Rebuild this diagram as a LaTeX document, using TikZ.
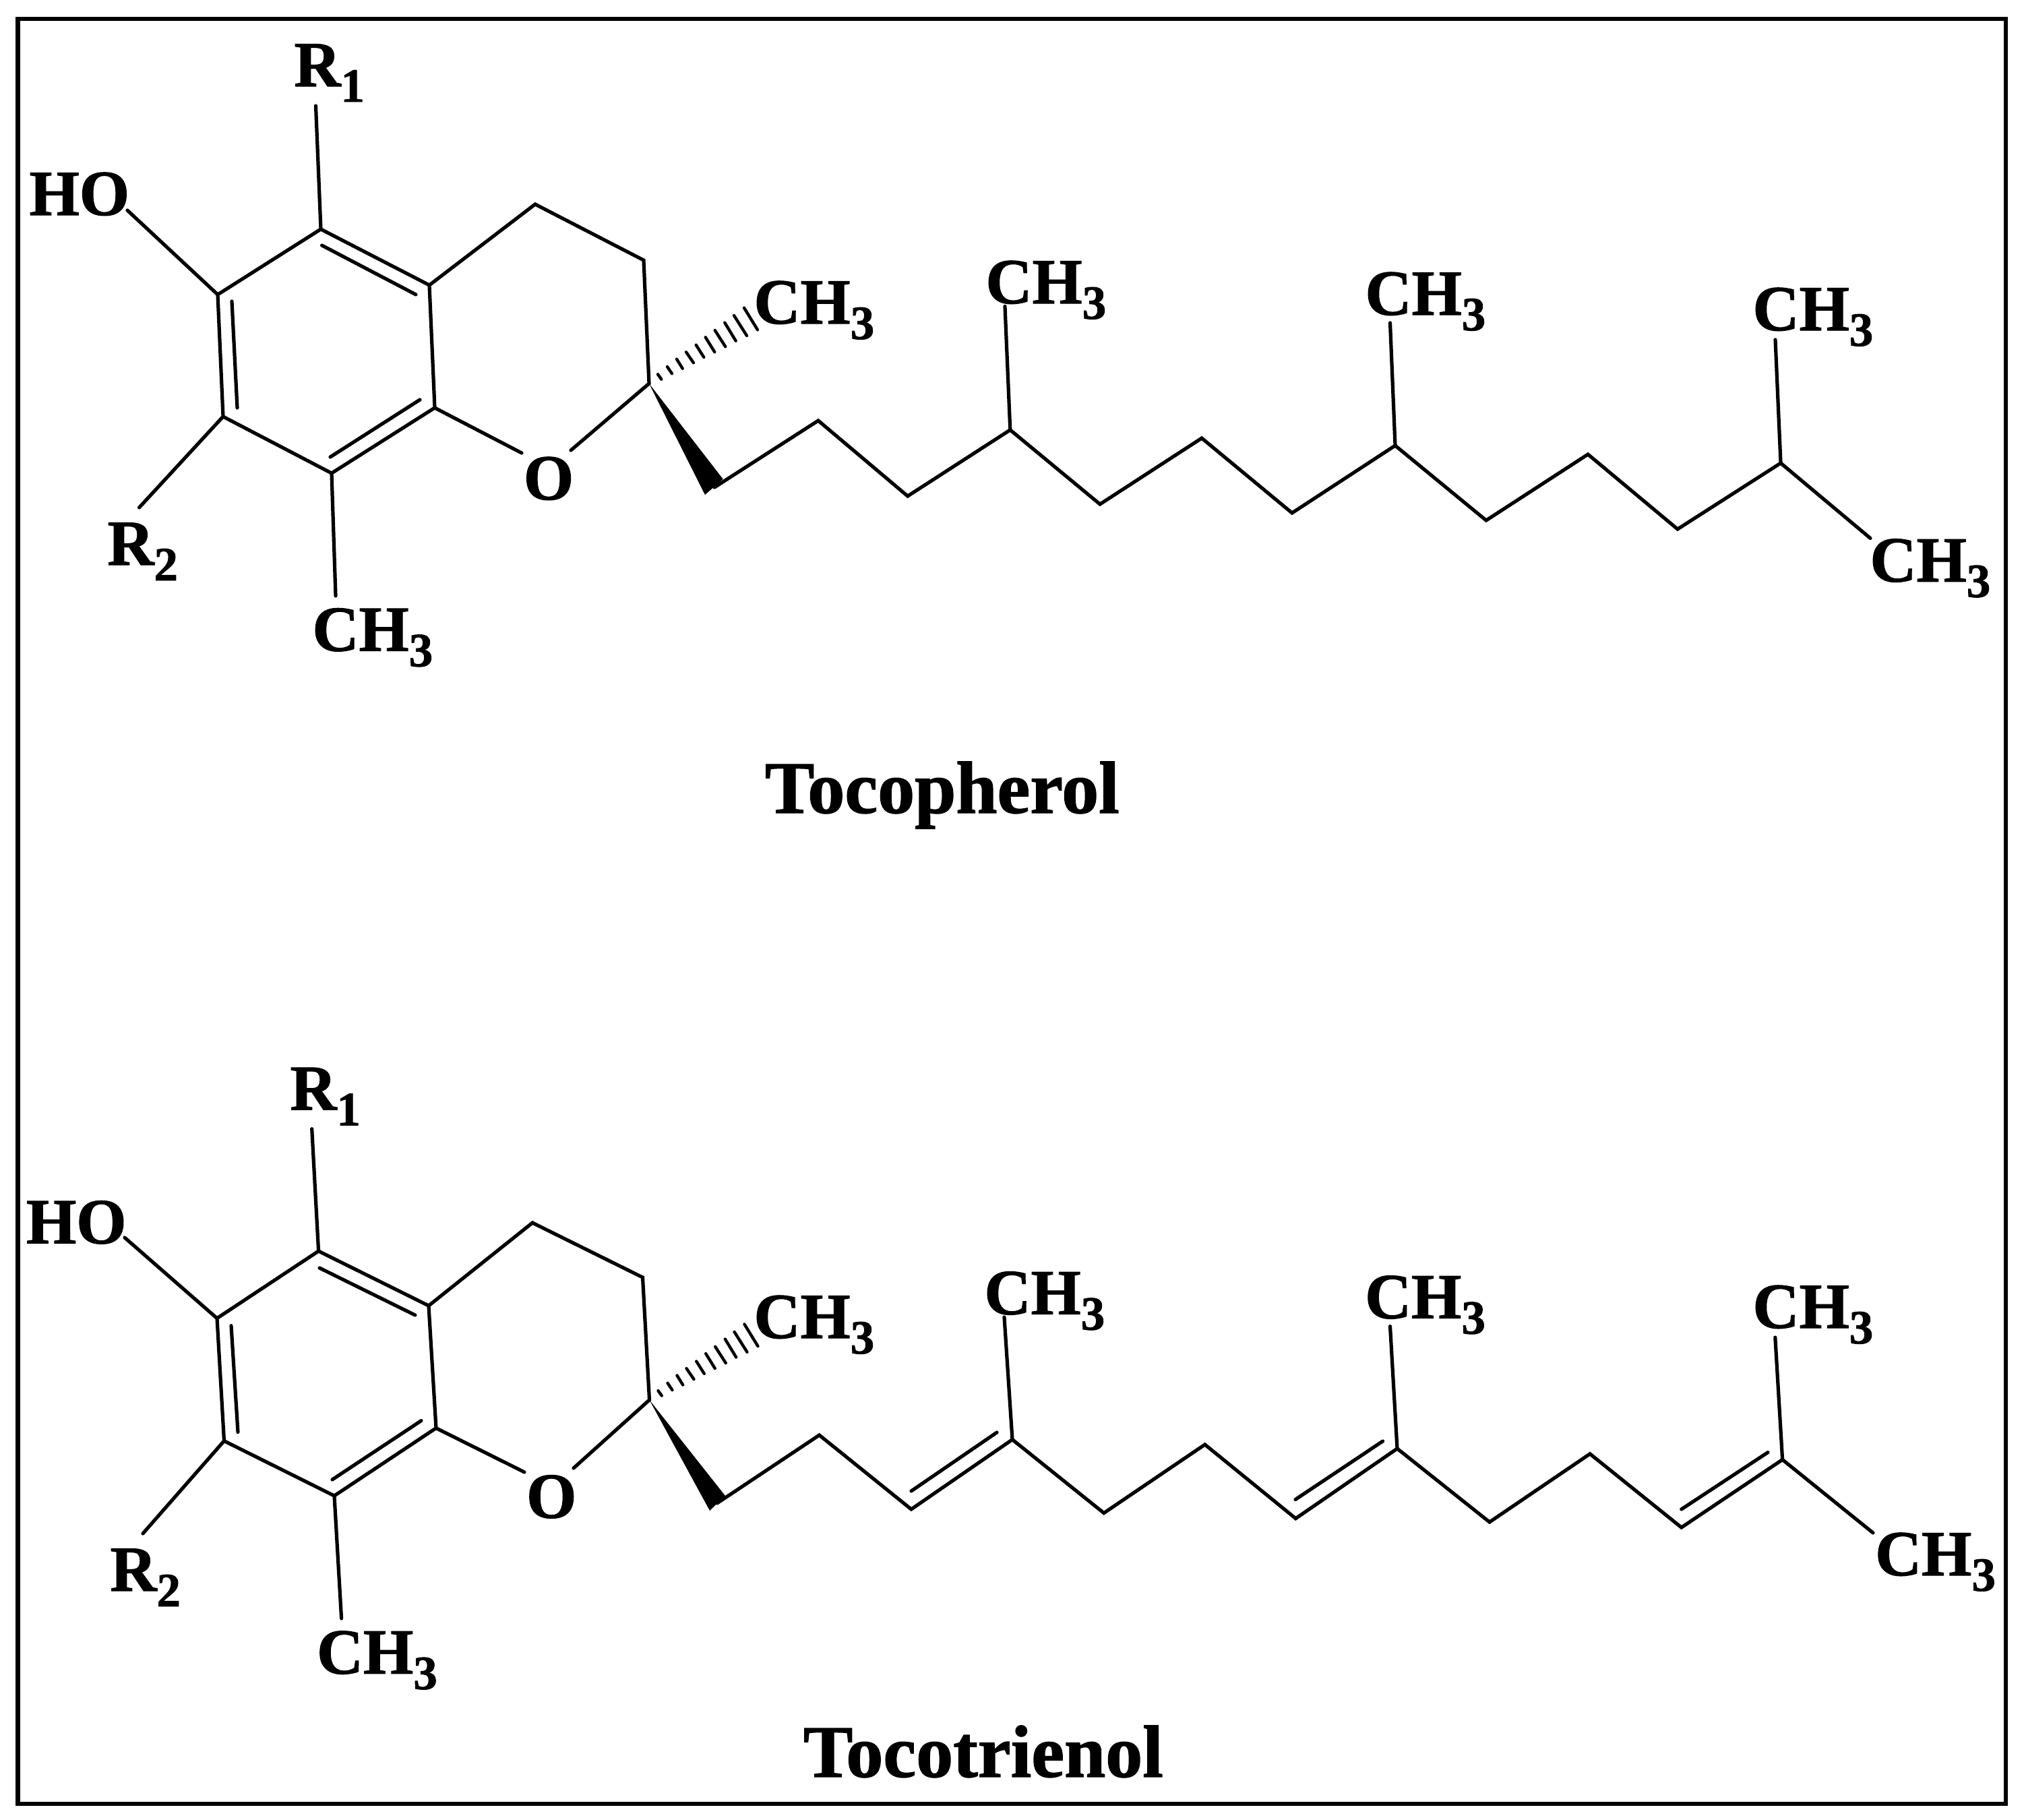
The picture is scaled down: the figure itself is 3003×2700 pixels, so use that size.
\documentclass[tikz,border=0pt]{standalone}
\usepackage{fontspec}
\setmainfont[BoldFeatures={FakeBold=1.2}]{Liberation Serif}
\newcommand{\subd}[1]{{\fontsize{71}{71}\selectfont\lower23pt\hbox{#1}}}
\newcommand{\chthree}{CH\subd{3}}
\newcommand{\hashbond}[2]{%
  \begin{scope}[shift={(#1,#2)}]
    \foreach \xa/\ya/\xb/\yb in {976/555.3/981.3/562.7,990/544/997/554.3,1004/532.7/1012.7/546.7,1018/522.3/1029/538.3,1032.7/511.7/1044.3/530,1046.7/500.3/1060.3/522.3,1060.7/490/1076.3/514.3,1075.3/478.7/1091.7/505.7,1089/468/1108/498,1104/456.7/1124/489.3}
      \draw[hashline] (\xa,\ya) -- (\xb,\yb);
  \end{scope}}
\tikzset{
  x=1pt,y=-1pt,
  bond/.style={line width=5.2pt,line cap=round,line join=miter,miter limit=10,black},
  hashline/.style={line width=4.4pt,line cap=round,black},
  wedgebond/.style={fill=black,draw=none},
  lab/.style={anchor=base west,inner sep=0pt,outer sep=0pt,xshift=-2.5pt,yshift=-1pt,font=\bfseries\fontsize{95.5}{100}\selectfont,text=black},
  title/.style={anchor=base west,inner sep=0pt,outer sep=0pt,font=\bfseries\fontsize{110}{114}\selectfont,text=black},
  frameline/.style={line width=6.5pt,black,line join=miter}
}
\begin{document}
\begin{tikzpicture}
\useasboundingbox (0,0) rectangle (3003,2700);
\fill[white] (0,0) rectangle (3003,2700);
\coordinate (f1) at (26.5,28);
\coordinate (f2) at (2976,2676);
\draw[frameline] (f1) rectangle (f2);

%% ---- Tocopherol ----
\coordinate (a5) at (476,340);
\coordinate (a4a) at (637,423);
\coordinate (a8a) at (645,605);
\coordinate (a8) at (492,702);
\coordinate (a7) at (331,618);
\coordinate (a6) at (323,437);
\coordinate (a4) at (794,303);
\coordinate (a3) at (955,386);
\coordinate (a2) at (963,569);
\coordinate (aOl) at (774,672);
\coordinate (aOr) at (847,668);
\coordinate (aR1) at (468.5,157);
\coordinate (aHO) at (189,312);
\coordinate (aR2) at (206.5,753);
\coordinate (aMe) at (498,884);
\coordinate (ai1a) at (477.6,364);
\coordinate (ai1b) at (617,437);
\coordinate (ai2a) at (344,447);
\coordinate (ai2b) at (352,605);
\coordinate (ai3a) at (490,678);
\coordinate (ai3b) at (623,593);
\coordinate (aw1) at (1046,734);
\coordinate (aw2) at (1072.7,710.7);
\coordinate (av2) at (1060,723);
\coordinate (av22) at (1214,624);
\coordinate (av3) at (1346.7,736);
\coordinate (av4) at (1498.8,637.8);
\coordinate (av5) at (1632,748);
\coordinate (av6) at (1783,650);
\coordinate (av7) at (1917,761);
\coordinate (av8) at (2070,661);
\coordinate (av9) at (2205,772);
\coordinate (av10) at (2356,674);
\coordinate (av11) at (2489,785);
\coordinate (av12) at (2642,687);
\coordinate (aend) at (2775,798.5);
\coordinate (ab4) at (1491,454.5);
\coordinate (ab8) at (2062.5,479);
\coordinate (ab12) at (2634,504);

\draw[bond] (a6) -- (a5) -- (a4a) -- (a8a) -- (a8) -- (a7) -- cycle;
\draw[bond] (a4a) -- (a4) -- (a3) -- (a2) -- (aOr);
\draw[bond] (a8a) -- (aOl);
\draw[bond] (a5) -- (aR1);
\draw[bond] (a6) -- (aHO);
\draw[bond] (a7) -- (aR2);
\draw[bond] (a8) -- (aMe);
\draw[bond] (ai1a) -- (ai1b);
\draw[bond] (ai2a) -- (ai2b);
\draw[bond] (ai3a) -- (ai3b);
\fill[wedgebond] (a2) -- (aw1) -- (aw2) -- cycle;
\hashbond{0}{0}
\draw[bond] (av2) -- (av22) -- (av3) -- (av4) -- (av5) -- (av6) -- (av7) -- (av8) -- (av9) -- (av10) -- (av11) -- (av12) -- (aend);
\draw[bond] (av4) -- (ab4);
\draw[bond] (av8) -- (ab8);
\draw[bond] (av12) -- (ab12);

\node[lab] (aR1t) at (439,127) {R\subd{1}};
\node[lab] (aHOt) at (46,318) {HO};
\node[lab] (aR2t) at (162,837) {R\subd{2}};
\node[lab] (aMet) at (466,964.5) {\chthree};
\node[lab] (aOt) at (779.4,740) {O};
\node[lab] (aHt) at (1121,479) {\chthree};
\node[lab] (aM4) at (1465,449) {\chthree};
\node[lab] (aM8) at (2028,466) {\chthree};
\node[lab] (aM12) at (2603,489) {\chthree};
\node[lab] (aMe2) at (2777,861.7) {\chthree};
\node[title] (t1) at (1135,1206) {Tocopherol};

%% ---- Tocotrienol ----
\coordinate (b5) at (472.6,1856);
\coordinate (b4a) at (636,1937);
\coordinate (b8a) at (647,2118.6);
\coordinate (b8) at (496,2219);
\coordinate (b7) at (332.5,2137.6);
\coordinate (b6) at (322,1955.7);
\coordinate (b4) at (790,1814);
\coordinate (b3) at (953.5,1895);
\coordinate (b2) at (963.5,2076.8);
\coordinate (bOl) at (778,2183.9);
\coordinate (bOr) at (851,2178);
\coordinate (bR1) at (462.7,1674.7);
\coordinate (bHO) at (185,1836);
\coordinate (bR2) at (212,2275);
\coordinate (bMe) at (506.6,2401);
\coordinate (bi1a) at (474,1881);
\coordinate (bi1b) at (616,1951);
\coordinate (bi2a) at (343,1966.7);
\coordinate (bi2b) at (353,2124.5);
\coordinate (bi3a) at (493,2195);
\coordinate (bi3b) at (625,2107.6);
\coordinate (bw1) at (1053,2241);
\coordinate (bw2) at (1076,2219);
\coordinate (bv2) at (1064,2230);
\coordinate (bv22) at (1215.6,2129);
\coordinate (bv3) at (1352,2239);
\coordinate (bv4) at (1502,2135.6);
\coordinate (bv5) at (1637.8,2244.6);
\coordinate (bv6) at (1787.7,2143);
\coordinate (bv7) at (1922.4,2252.7);
\coordinate (bv8) at (2073,2149);
\coordinate (bv9) at (2210,2258);
\coordinate (bv10) at (2359,2156.8);
\coordinate (bv11) at (2494.7,2266);
\coordinate (bv12) at (2644.6,2165.4);
\coordinate (bend) at (2779,2274);
\coordinate (bb4) at (1490,1954);
\coordinate (bb8) at (2062.5,1967.6);
\coordinate (bb12) at (2633.8,1984);
\coordinate (bd1a) at (1352,2212);
\coordinate (bd1b) at (1479,2125);
\coordinate (bd2a) at (1922,2224.5);
\coordinate (bd2b) at (2051.6,2138);
\coordinate (bd3a) at (2494.7,2239);
\coordinate (bd3b) at (2623,2154.6);

\draw[bond] (b6) -- (b5) -- (b4a) -- (b8a) -- (b8) -- (b7) -- cycle;
\draw[bond] (b4a) -- (b4) -- (b3) -- (b2) -- (bOr);
\draw[bond] (b8a) -- (bOl);
\draw[bond] (b5) -- (bR1);
\draw[bond] (b6) -- (bHO);
\draw[bond] (b7) -- (bR2);
\draw[bond] (b8) -- (bMe);
\draw[bond] (bi1a) -- (bi1b);
\draw[bond] (bi2a) -- (bi2b);
\draw[bond] (bi3a) -- (bi3b);
\fill[wedgebond] (b2) -- (bw1) -- (bw2) -- cycle;
\hashbond{0.5}{1507.8}
\draw[bond] (bv2) -- (bv22) -- (bv3) -- (bv4) -- (bv5) -- (bv6) -- (bv7) -- (bv8) -- (bv9) -- (bv10) -- (bv11) -- (bv12) -- (bend);
\draw[bond] (bv4) -- (bb4);
\draw[bond] (bv8) -- (bb8);
\draw[bond] (bv12) -- (bb12);
\draw[bond] (bd1a) -- (bd1b);
\draw[bond] (bd2a) -- (bd2b);
\draw[bond] (bd3a) -- (bd3b);

\node[lab] (bR1t) at (433,1645.4) {R\subd{1}};
\node[lab] (bHOt) at (41.5,1843.5) {HO};
\node[lab] (bR2t) at (166,2359) {R\subd{2}};
\node[lab] (bMet) at (472.6,2481.8) {\chthree};
\node[lab] (bOt) at (783.6,2250.6) {O};
\node[lab] (bHt) at (1121,1984) {\chthree};
\node[lab] (bM4) at (1463,1948.6) {\chthree};
\node[lab] (bM8) at (2027.7,1954.6) {\chthree};
\node[lab] (bM12) at (2603,1969) {\chthree};
\node[lab] (bMe2) at (2784.7,2336) {\chthree};
\node[title] (t2) at (1192,2636) {Tocotrienol};
\end{tikzpicture}
\end{document}
